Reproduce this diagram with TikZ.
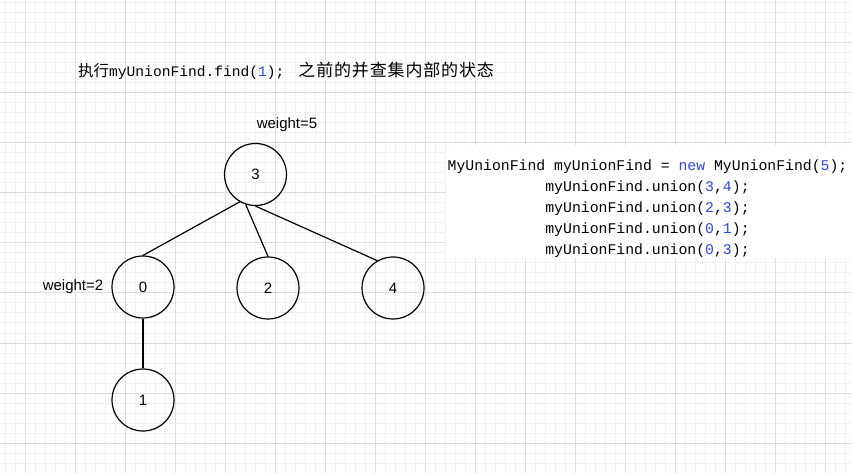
\documentclass[tikz,border=0pt]{standalone}
\usepackage{fontspec}
\setmainfont{Liberation Sans}
\newfontfamily\codefont{Liberation Mono}
\newfontfamily\cjk{Noto Sans CJK SC}
\newfontfamily\cjkwide{Noto Sans CJK SC}[LetterSpace=5]
\definecolor{gridmajor}{RGB}{222,222,222}
\definecolor{gridminor}{RGB}{241,241,241}
\definecolor{codeblue}{RGB}{45,70,230}
\newcommand{\num}[1]{\textcolor{codeblue}{#1}}

\begin{document}
\begin{tikzpicture}[x=1pt, y=-1pt,
		vertex/.style={circle, draw, line width=1.2pt, minimum size=62pt, inner sep=0pt, font=\fontsize{15}{15}\selectfont},
		weightlabel/.style={font=\fontsize{15}{15}\selectfont, inner sep=0pt}]
			\useasboundingbox (0,0) rectangle (852,473);
			\fill[white] (0,0) rectangle (852,473);

			% grid
			\foreach \x in {5,15,...,845} \draw[gridminor, line width=1pt] (\x,0) -- (\x,473);
			\foreach \y in {3,13,...,473} \draw[gridminor, line width=1pt] (0,\y) -- (852,\y);
			\foreach \x in {25,75,...,825} \draw[gridmajor, line width=1pt] (\x,0) -- (\x,473);
			\foreach \y in {43,93,...,443} \draw[gridmajor, line width=1pt] (0,\y) -- (852,\y);

			% title
			\node[anchor=west, inner sep=0pt] (title) at (78,70.5) {\cjk\fontsize{15.5}{15}\selectfont 执行\codefont\fontsize{14.6}{15}\selectfont myUnionFind.find(\num{1});\hspace{14pt}\cjkwide\fontsize{17}{15}\selectfont 之前的并查集内部的状态};

			% tree
			\node[vertex] (n3) at (255.5,174.5) {3};
			\node[vertex] (n0) at (143,287) {0};
			\node[vertex] (n2) at (268,288) {2};
			\node[vertex] (n4) at (393,288) {4};
			\node[vertex] (n1) at (143,400) {1};

			\node[weightlabel] (w3) at (287,125) {weight=5};
			\node[weightlabel] (w0) at (73,287) {weight=2};

			\draw[line width=1.2pt] (n3.240) -- (n0.north);
			\draw[line width=1.2pt] (n3.252) -- (n2.north);
			\draw[line width=1.2pt] (n3.south) -- (n4.120);
			\draw[line width=1.2pt] (n0) -- (n1);

			% code
			\fill[white] (446,145) rectangle (852,258);
			\node[align=center, inner sep=0pt, font=\codefont\fontsize{14.8}{21}\selectfont] (code) at (647.5,209) {MyUnionFind myUnionFind = \num{new} MyUnionFind(\num{5});\\
				myUnionFind.union(\num{3},\num{4});\\
				myUnionFind.union(\num{2},\num{3});\\
				myUnionFind.union(\num{0},\num{1});\\
				myUnionFind.union(\num{0},\num{3});};

		\end{tikzpicture}
\end{document}
